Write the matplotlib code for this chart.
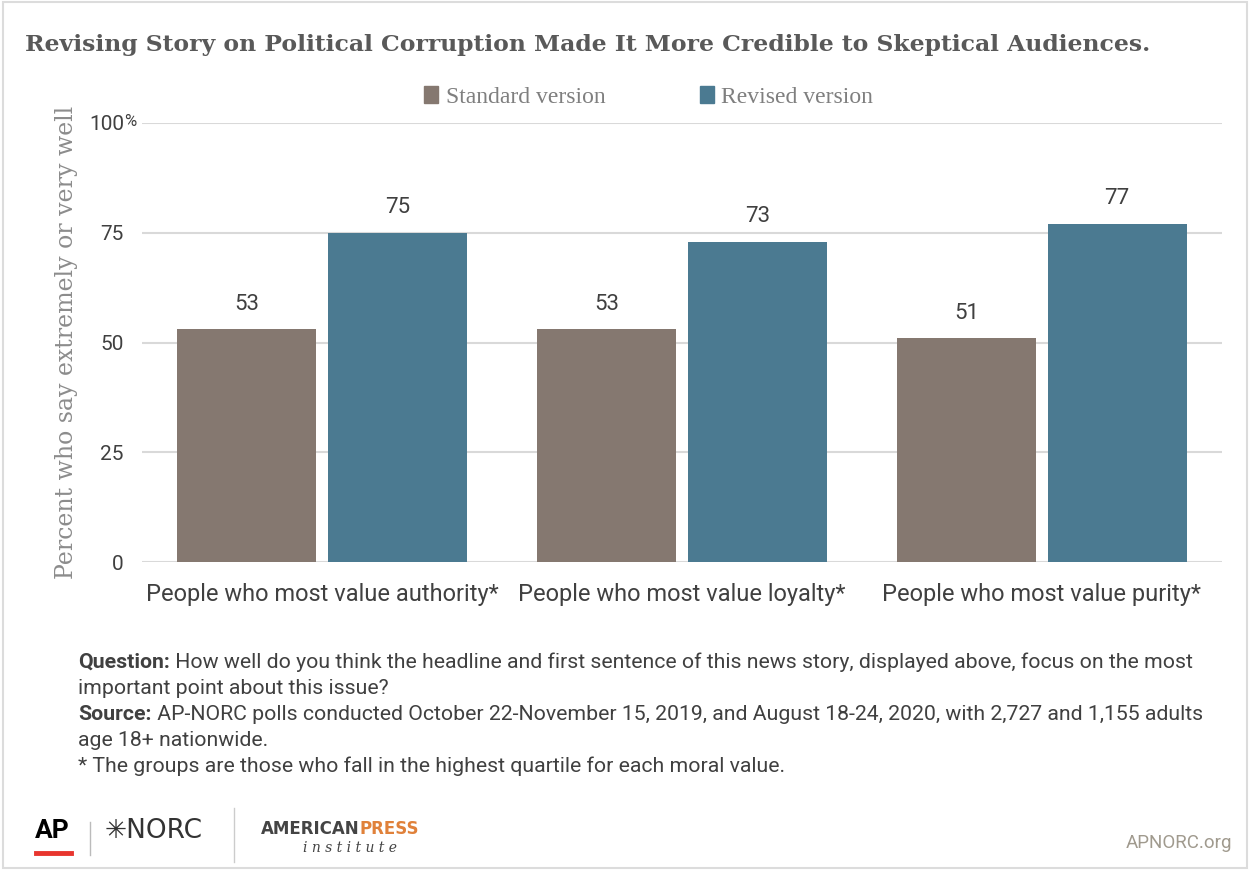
import numpy as np
import matplotlib.pyplot as plt
from matplotlib.patches import Rectangle
from matplotlib.lines import Line2D

# data
categories = ["People who most value authority*", "People who most value loyalty*",
              "People who most value purity*"]
standard = [53, 53, 51]
revised = [75, 73, 77]
series_names = ["Standard version", "Revised version"]
yticks = [0, 25, 50, 75, 100]
ytick_labels = ["0", "25", "50", "75", "100"]

c_std = "#857870"
c_rev = "#4b7a91"
txt = "#404040"

W, H = 1252, 871
fig = plt.figure(figsize=(W / 100, H / 100), dpi=100)
fig.patch.set_facecolor("white")
renderer = fig.canvas.get_renderer()


def fx(px):
    return px / W


def fy(py):
    return 1 - py / H


def text_after(t, s, **kw):
    # put a second text straight after the first one
    bb = t.get_window_extent(renderer)
    return fig.text(bb.x1 / W, t.get_position()[1], s, **kw)


# border round the whole graphic
fig.add_artist(Rectangle((fx(3), 3 / H), fx(1244), 866 / H, transform=fig.transFigure,
                         fill=False, edgecolor="#dcdcdc", linewidth=1.5))

ax = fig.add_axes([fx(142), 309 / H, fx(1080), 439 / H])
x = np.arange(len(categories))
w = 0.386
ax.bar(x - 0.209, standard, w, color=c_std, zorder=3)
ax.bar(x + 0.209, revised, w, color=c_rev, zorder=3)

for xi, v in zip(x - 0.209, standard):
    ax.text(xi, v + 3.3, str(v), ha="center", va="bottom", fontsize=16, color=txt, family="Roboto")
for xi, v in zip(x + 0.209, revised):
    ax.text(xi, v + 3.3, str(v), ha="center", va="bottom", fontsize=16, color=txt, family="Roboto")

ax.set_xlim(-0.5, 2.5)
ax.set_ylim(0, 100)
ax.set_yticks(yticks)
ax.set_yticklabels(ytick_labels, family="Roboto", fontsize=15, color=txt)
ax.set_xticks(x)
ax.set_xticklabels(categories, family="Roboto", fontsize=17, color=txt)
ax.tick_params(axis="x", length=0, pad=15)
ax.tick_params(axis="y", length=0, pad=13)
ax.grid(axis="y", color="#d9d9d9", linewidth=1.5, zorder=0)
for s in ax.spines.values():
    s.set_visible(False)
ax.set_ylabel("Percent who say extremely or very well", family="DejaVu Serif", fontsize=17,
              color="#8c8c8c", labelpad=8)
# the % sign hangs after the top tick label
fig.text(fx(124), fy(121), "%", ha="left", va="center", fontsize=12, color=txt, family="Roboto")

# legend
handles = [Rectangle((0, 0), 1, 1, color=c_std), Rectangle((0, 0), 1, 1, color=c_rev)]
fig.legend(handles, series_names, loc="center", bbox_to_anchor=(0.518, fy(97)), ncol=2,
           frameon=False, prop={"family": "Liberation Serif", "size": 17}, labelcolor="#7f7f7f",
           handlelength=0.6, handleheight=0.75, handletextpad=0.3, columnspacing=4)

# title
fig.text(fx(25), fy(45), "Revising Story on Political Corruption Made It More Credible to Skeptical Audiences.",
         family="DejaVu Serif", fontweight="bold", fontsize=16.9, color="#595959", va="center")

# notes
note_kw = dict(fontsize=15.3, color=txt, family="Roboto", va="center")
t = fig.text(fx(78), fy(662), "Question:", fontweight="bold", **note_kw)
text_after(t, " How well do you think the headline and first sentence of this news story, displayed above, focus on the most",
           **note_kw)
fig.text(fx(78), fy(688), "important point about this issue?", **note_kw)
t = fig.text(fx(78), fy(714), "Source:", fontweight="bold", **note_kw)
text_after(t, " AP-NORC polls conducted October 22-November 15, 2019, and August 18-24, 2020, with 2,727 and 1,155 adults",
           **note_kw)
fig.text(fx(78), fy(740), "age 18+ nationwide.", **note_kw)
fig.text(fx(78), fy(766), "* The groups are those who fall in the highest quartile for each moral value.", **note_kw)

# logos
fig.text(fx(35), fy(831), "AP", fontsize=19, fontweight="bold", color="black", family="Roboto", va="center")
fig.add_artist(Line2D([fx(36), fx(71)], [fy(853)] * 2, color="#e8352e", linewidth=3.5))
fig.add_artist(Line2D([fx(90)] * 2, [fy(822), fy(855)], color="#bbbbbb", linewidth=1))
fig.text(fx(105), fy(831), "\u2733NORC", fontsize=19, color="#333333", family="DejaVu Sans", va="center")
fig.add_artist(Line2D([fx(234)] * 2, [fy(808), fy(862)], color="#cccccc", linewidth=1))
t = fig.text(fx(261), fy(829), "AMERICAN", fontsize=12, fontweight="bold", color="#444444",
             family="DejaVu Sans", va="center")
text_after(t, "PRESS", fontsize=12, fontweight="bold", color="#e0813a", family="DejaVu Sans", va="center")
fig.text(fx(303), fy(848), "i n s t i t u t e", fontsize=10, style="italic", color="#444444",
         family="DejaVu Serif", va="center")
fig.text(fx(1232), fy(843), "APNORC.org", fontsize=13.5, color="#a09a8e", family="Roboto",
         va="center", ha="right")

fig.savefig("out.png", dpi=100)
